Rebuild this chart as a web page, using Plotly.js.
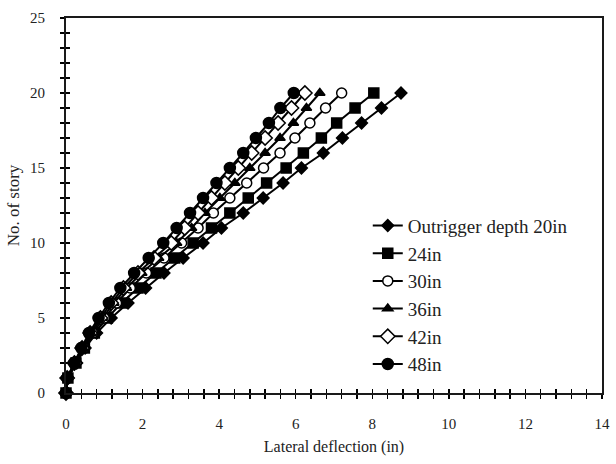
<!DOCTYPE html>
<html>
<head>
<meta charset="utf-8">
<script src="https://cdn.plot.ly/plotly-3.0.1.min.js"></script>
<style>html,body{margin:0;padding:0;background:#fff;}#chart{width:616px;height:464px;}</style>
</head>
<body>
<div id="chart"></div>
<script>
const stories = [0,1,2,3,4,5,6,7,8,9,10,11,12,13,14,15,16,17,18,19,20];
const seriesNames = ["Outrigger depth 20in","24in","30in","36in","42in","48in"];
const d20 = [0,0.05,0.28,0.50,0.80,1.18,1.62,2.08,2.56,3.06,3.58,4.06,4.63,5.15,5.67,6.15,6.72,7.22,7.72,8.24,8.75];
const d24 = [0,0.05,0.26,0.48,0.74,1.08,1.45,1.88,2.35,2.84,3.32,3.80,4.28,4.76,5.24,5.75,6.20,6.67,7.07,7.55,8.04];
const d30 = [0,0.04,0.24,0.46,0.70,1.00,1.32,1.68,2.10,2.56,3.02,3.45,3.85,4.28,4.72,5.16,5.59,5.98,6.37,6.78,7.20];
const d36 = [0,0.04,0.23,0.44,0.66,0.95,1.25,1.58,1.98,2.42,2.89,3.28,3.63,4.02,4.41,4.80,5.20,5.59,5.94,6.28,6.63];
const d42 = [0,0.03,0.22,0.42,0.63,0.90,1.18,1.50,1.88,2.30,2.75,3.10,3.45,3.80,4.15,4.50,4.85,5.20,5.54,5.89,6.24];
const d48 = [0,0.03,0.21,0.40,0.60,0.85,1.12,1.42,1.78,2.16,2.54,2.89,3.24,3.58,3.93,4.28,4.63,4.96,5.30,5.60,5.95];
const xTickVals = [0,2,4,6,8,10,12,14];
const yTickVals = [0,5,10,15,20,25];

const allData = [d20,d24,d30,d36,d42,d48];
const styles = [
  {symbol:'diamond', size:9, color:'black'},
  {symbol:'square', size:10, color:'black'},
  {symbol:'circle', size:10, color:'white'},
  {symbol:'triangle-up', size:9, color:'black'},
  {symbol:'diamond', size:11, color:'white'},
  {symbol:'circle', size:11, color:'black'}
];

const serif = 'Liberation Serif';
const traces = allData.map((d,i)=>({
  x: d, y: stories, name: seriesNames[i], type:'scatter', mode:'lines+markers',
  legendgroup: 'g'+i,
  cliponaxis: false,
  line:{color:'black', width:2},
  marker:{symbol:styles[i].symbol, size:styles[i].size, color:styles[i].color, line:{color:'black', width:1.5}}
}));
traces.push({x:[], y:[], xaxis:'x2', yaxis:'y2', showlegend:false, type:'scatter', mode:'markers'});

const tickCommon = {tickcolor:'black', tickwidth:1.5, ticklen:4};

const layout = {
  width:616, height:464,
  margin:{l:66, r:14, t:18, b:71},
  paper_bgcolor:'white', plot_bgcolor:'white',
  font:{family:serif, size:15, color:'#222'},
  showlegend:true,
  legend:{x:0.563, y:0.497, xanchor:'left', yanchor:'top', bgcolor:'rgba(0,0,0,0)',
          font:{family:serif, size:19, color:'#222'}, tracegroupgap:0, itemwidth:30, traceorder:'grouped'},
  xaxis:{range:[0,14], tickvals:xTickVals, ticks:'outside', ...tickCommon,
         tickfont:{family:serif, size:15, color:'#222'},
         minor:{dtick:0.4, tick0:0, ticks:'outside', ticklen:4, tickwidth:1.5, tickcolor:'black'},
         showgrid:false, zeroline:false, showline:true, linecolor:'#1a1a1a', linewidth:2, mirror:true,
         ticklabelstandoff:12,
         title:{text:'Lateral deflection (in)', font:{family:serif, size:16, color:'#222'}, standoff:10}},
  yaxis:{range:[0,25], tickvals:yTickVals, ticks:'outside', ...tickCommon,
         tickfont:{family:serif, size:15, color:'#222'},
         minor:{dtick:1, tick0:0, ticks:'outside', ticklen:4, tickwidth:1.5, tickcolor:'black'},
         showgrid:false, zeroline:false, showline:true, linecolor:'#1a1a1a', linewidth:2, mirror:true,
         ticklabelstandoff:12,
         title:{text:'No. of story', font:{family:serif, size:17, color:'#222'}, standoff:6}},
  xaxis2:{range:[0,14], overlaying:'x', anchor:'y2', side:'bottom', tickvals:xTickVals, ticks:'inside', ...tickCommon,
          minor:{dtick:0.4, tick0:0, ticks:'inside', ticklen:4, tickwidth:1.5, tickcolor:'black'},
          showticklabels:false, showgrid:false, zeroline:false, showline:false},
  yaxis2:{range:[0,25], overlaying:'y', anchor:'x2', side:'left', tickvals:yTickVals, ticks:'inside', ...tickCommon,
          minor:{dtick:1, tick0:0, ticks:'inside', ticklen:4, tickwidth:1.5, tickcolor:'black'},
          showticklabels:false, showgrid:false, zeroline:false, showline:false}
};

Plotly.newPlot('chart', traces, layout, {displayModeBar:false, staticPlot:true});
</script>
</body>
</html>
